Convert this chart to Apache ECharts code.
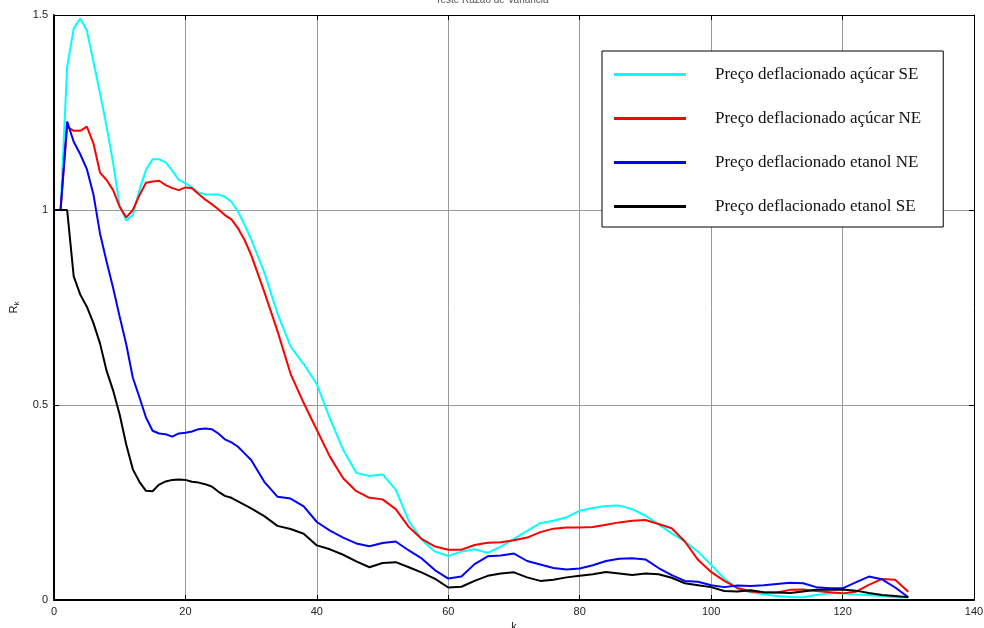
<!DOCTYPE html>
<html>
<head>
<meta charset="utf-8">
<script src="https://cdn.jsdelivr.net/npm/echarts@6/dist/echarts.min.js"></script>
<style>html,body{margin:0;padding:0;background:#fff}#c{width:984px;height:628px}</style>
</head>
<body>
<div id="c"></div>
<script>
// lag k
const kValues = [0,1,2,3,4,5,6,7,8,9,10,11,12,13,14,15,16,17,18,19,20,21,22,23,24,25,26,27,28,29,30,
  32,34,36,38,40,42,44,46,48,50,52,54,56,58,60,62,64,66,68,70,72,74,76,78,80,
  82,84,86,88,90,92,94,96,98,100,102,104,106,108,110,112,114,116,118,120,122,124,126,128,130];

const acucarSE = [1.0,1.0,1.367,1.465,1.491,1.46,1.38,1.30,1.215,1.12,1.01,0.973,0.987,1.051,1.103,1.130,1.130,1.122,1.101,1.077,1.068,1.058,1.045,1.040,1.040,1.040,1.034,1.021,0.996,0.962,0.925,
  0.84,0.735,0.65,0.605,0.553,0.465,0.385,0.326,0.318,0.322,0.283,0.202,0.154,0.124,0.113,0.124,0.130,0.121,0.137,0.157,0.177,0.197,0.203,0.212,0.229,
  0.236,0.241,0.242,0.233,0.216,0.194,0.171,0.150,0.124,0.090,0.055,0.029,0.020,0.015,0.010,0.008,0.007,0.013,0.017,0.017,0.014,0.013,0.010,0.007,0.007];

const acucarNE = [1.0,1.0,1.214,1.203,1.203,1.214,1.171,1.096,1.077,1.051,1.008,0.981,1.0,1.038,1.070,1.073,1.075,1.064,1.056,1.051,1.058,1.056,1.041,1.027,1.015,1.002,0.987,0.976,0.953,0.923,0.885,
  0.79,0.69,0.58,0.505,0.436,0.367,0.312,0.279,0.262,0.258,0.233,0.187,0.156,0.137,0.129,0.129,0.141,0.147,0.148,0.153,0.160,0.174,0.183,0.186,0.186,
  0.187,0.193,0.199,0.203,0.205,0.195,0.184,0.150,0.103,0.072,0.049,0.031,0.022,0.019,0.019,0.026,0.027,0.023,0.020,0.017,0.021,0.039,0.054,0.052,0.021];

const etanolNE = [1.0,1.0,1.227,1.175,1.143,1.105,1.040,0.940,0.868,0.800,0.726,0.655,0.57,0.52,0.468,0.434,0.427,0.425,0.419,0.427,0.429,0.432,0.438,0.440,0.438,0.427,0.412,0.404,0.393,0.376,0.359,
  0.303,0.265,0.26,0.24,0.2,0.178,0.16,0.145,0.138,0.146,0.150,0.127,0.106,0.076,0.055,0.060,0.092,0.112,0.114,0.119,0.100,0.091,0.082,0.078,0.081,
  0.089,0.100,0.106,0.107,0.104,0.082,0.064,0.049,0.047,0.038,0.033,0.037,0.036,0.038,0.041,0.044,0.043,0.033,0.030,0.030,0.045,0.060,0.053,0.032,0.007];

const etanolSE = [1.0,1.0,1.0,0.83,0.783,0.752,0.71,0.658,0.588,0.537,0.475,0.398,0.335,0.303,0.280,0.279,0.296,0.304,0.308,0.309,0.308,0.303,0.301,0.297,0.291,0.278,0.267,0.262,0.253,0.244,0.235,
  0.215,0.19,0.182,0.17,0.14,0.13,0.116,0.099,0.084,0.095,0.097,0.084,0.070,0.054,0.032,0.034,0.049,0.062,0.068,0.071,0.058,0.049,0.052,0.058,0.062,
  0.066,0.072,0.068,0.064,0.068,0.066,0.057,0.043,0.038,0.033,0.023,0.022,0.025,0.020,0.019,0.018,0.022,0.026,0.026,0.027,0.024,0.018,0.013,0.010,0.007];

const seriesNames = ['Preço deflacionado açúcar SE','Preço deflacionado açúcar NE','Preço deflacionado etanol NE','Preço deflacionado etanol SE'];
const seriesValues = [acucarSE, acucarNE, etanolNE, etanolSE];
const seriesColors = ['#00ffff','#ff0000','#0000ff','#000000'];
const xTicks = {min:0, max:140, interval:20};
const yTicks = {min:0, max:1.5, interval:0.5};

const chart = echarts.init(document.getElementById('c'), null, {renderer:'canvas'});
const labelFont = {fontFamily:'Liberation Sans, Arial, sans-serif', fontSize:11, color:'#222'};
const gridLine = {show:true, lineStyle:{color:'#9a9a9a', width:1}};

chart.setOption({
  animation:false,
  backgroundColor:'#fff',
  title:{text:'Teste Razão de Variância', left:'center', top:-10,
    textStyle:{fontFamily:'Liberation Sans, Arial', fontSize:10, fontWeight:'normal', color:'#555'}},
  grid:{left:54, right:10, top:15, bottom:28, containLabel:false, outerBoundsMode:'none'},
  legend:{
    orient:'vertical', left:602, top:51,
    padding:[15,22,12,12], itemGap:27, itemWidth:72, itemHeight:3,
    borderColor:'#000', borderWidth:1, backgroundColor:'#fff',
    icon:'rect',
    data:seriesNames.map((n,i)=>({name:n, icon:'rect', itemStyle:{color:seriesColors[i]}})),
    textStyle:{fontFamily:'Liberation Serif, Times New Roman, serif', fontSize:17, lineHeight:17, color:'#111', padding:[0,0,0,24]},
    selectedMode:false
  },
  xAxis:[{
    type:'value', min:xTicks.min, max:xTicks.max, interval:xTicks.interval, position:'bottom',
    name:'k', nameLocation:'middle', nameGap:20, nameTextStyle:labelFont,
    axisLine:{show:true, onZero:false, lineStyle:{color:'#000', width:2}},
    axisTick:{show:true, inside:true, length:5, lineStyle:{color:'#000'}},
    axisLabel:Object.assign({margin:6}, labelFont),
    splitLine:gridLine
  },{
    type:'value', min:xTicks.min, max:xTicks.max, interval:xTicks.interval, position:'top',
    axisLine:{show:true, onZero:false, lineStyle:{color:'#000', width:1}},
    axisTick:{show:true, inside:true, length:5, lineStyle:{color:'#000'}},
    axisLabel:{show:false}, splitLine:{show:false}
  }],
  yAxis:[{
    type:'value', min:yTicks.min, max:yTicks.max, interval:yTicks.interval, position:'left',
    name:'{r|R}{s|k}', nameLocation:'middle', nameGap:33,
    nameTextStyle:{rich:{r:{fontFamily:'Liberation Sans, Arial', fontSize:11, color:'#222'}, s:{fontFamily:'Liberation Sans, Arial', fontSize:8, color:'#222', verticalAlign:'bottom', padding:[6,0,0,0]}}},
    axisLine:{show:true, onZero:false, lineStyle:{color:'#000', width:2}},
    axisTick:{show:true, inside:true, length:5, lineStyle:{color:'#000'}},
    axisLabel:Object.assign({margin:6, formatter:v=>String(v)}, labelFont),
    splitLine:gridLine
  },{
    type:'value', min:yTicks.min, max:yTicks.max, interval:yTicks.interval, position:'right',
    axisLine:{show:true, onZero:false, lineStyle:{color:'#000', width:1}},
    axisTick:{show:true, inside:true, length:5, lineStyle:{color:'#000'}},
    axisLabel:{show:false}, splitLine:{show:false}
  }],
  series:seriesValues.map((vals,i)=>({
    name:seriesNames[i], type:'line', xAxisIndex:0, yAxisIndex:0,
    data:kValues.map((k,j)=>[k, vals[j]]),
    symbol:'none', smooth:false,
    lineStyle:{color:seriesColors[i], width:2},
    itemStyle:{color:seriesColors[i]},
    z:2+i
  }))
});
</script>
</body>
</html>
